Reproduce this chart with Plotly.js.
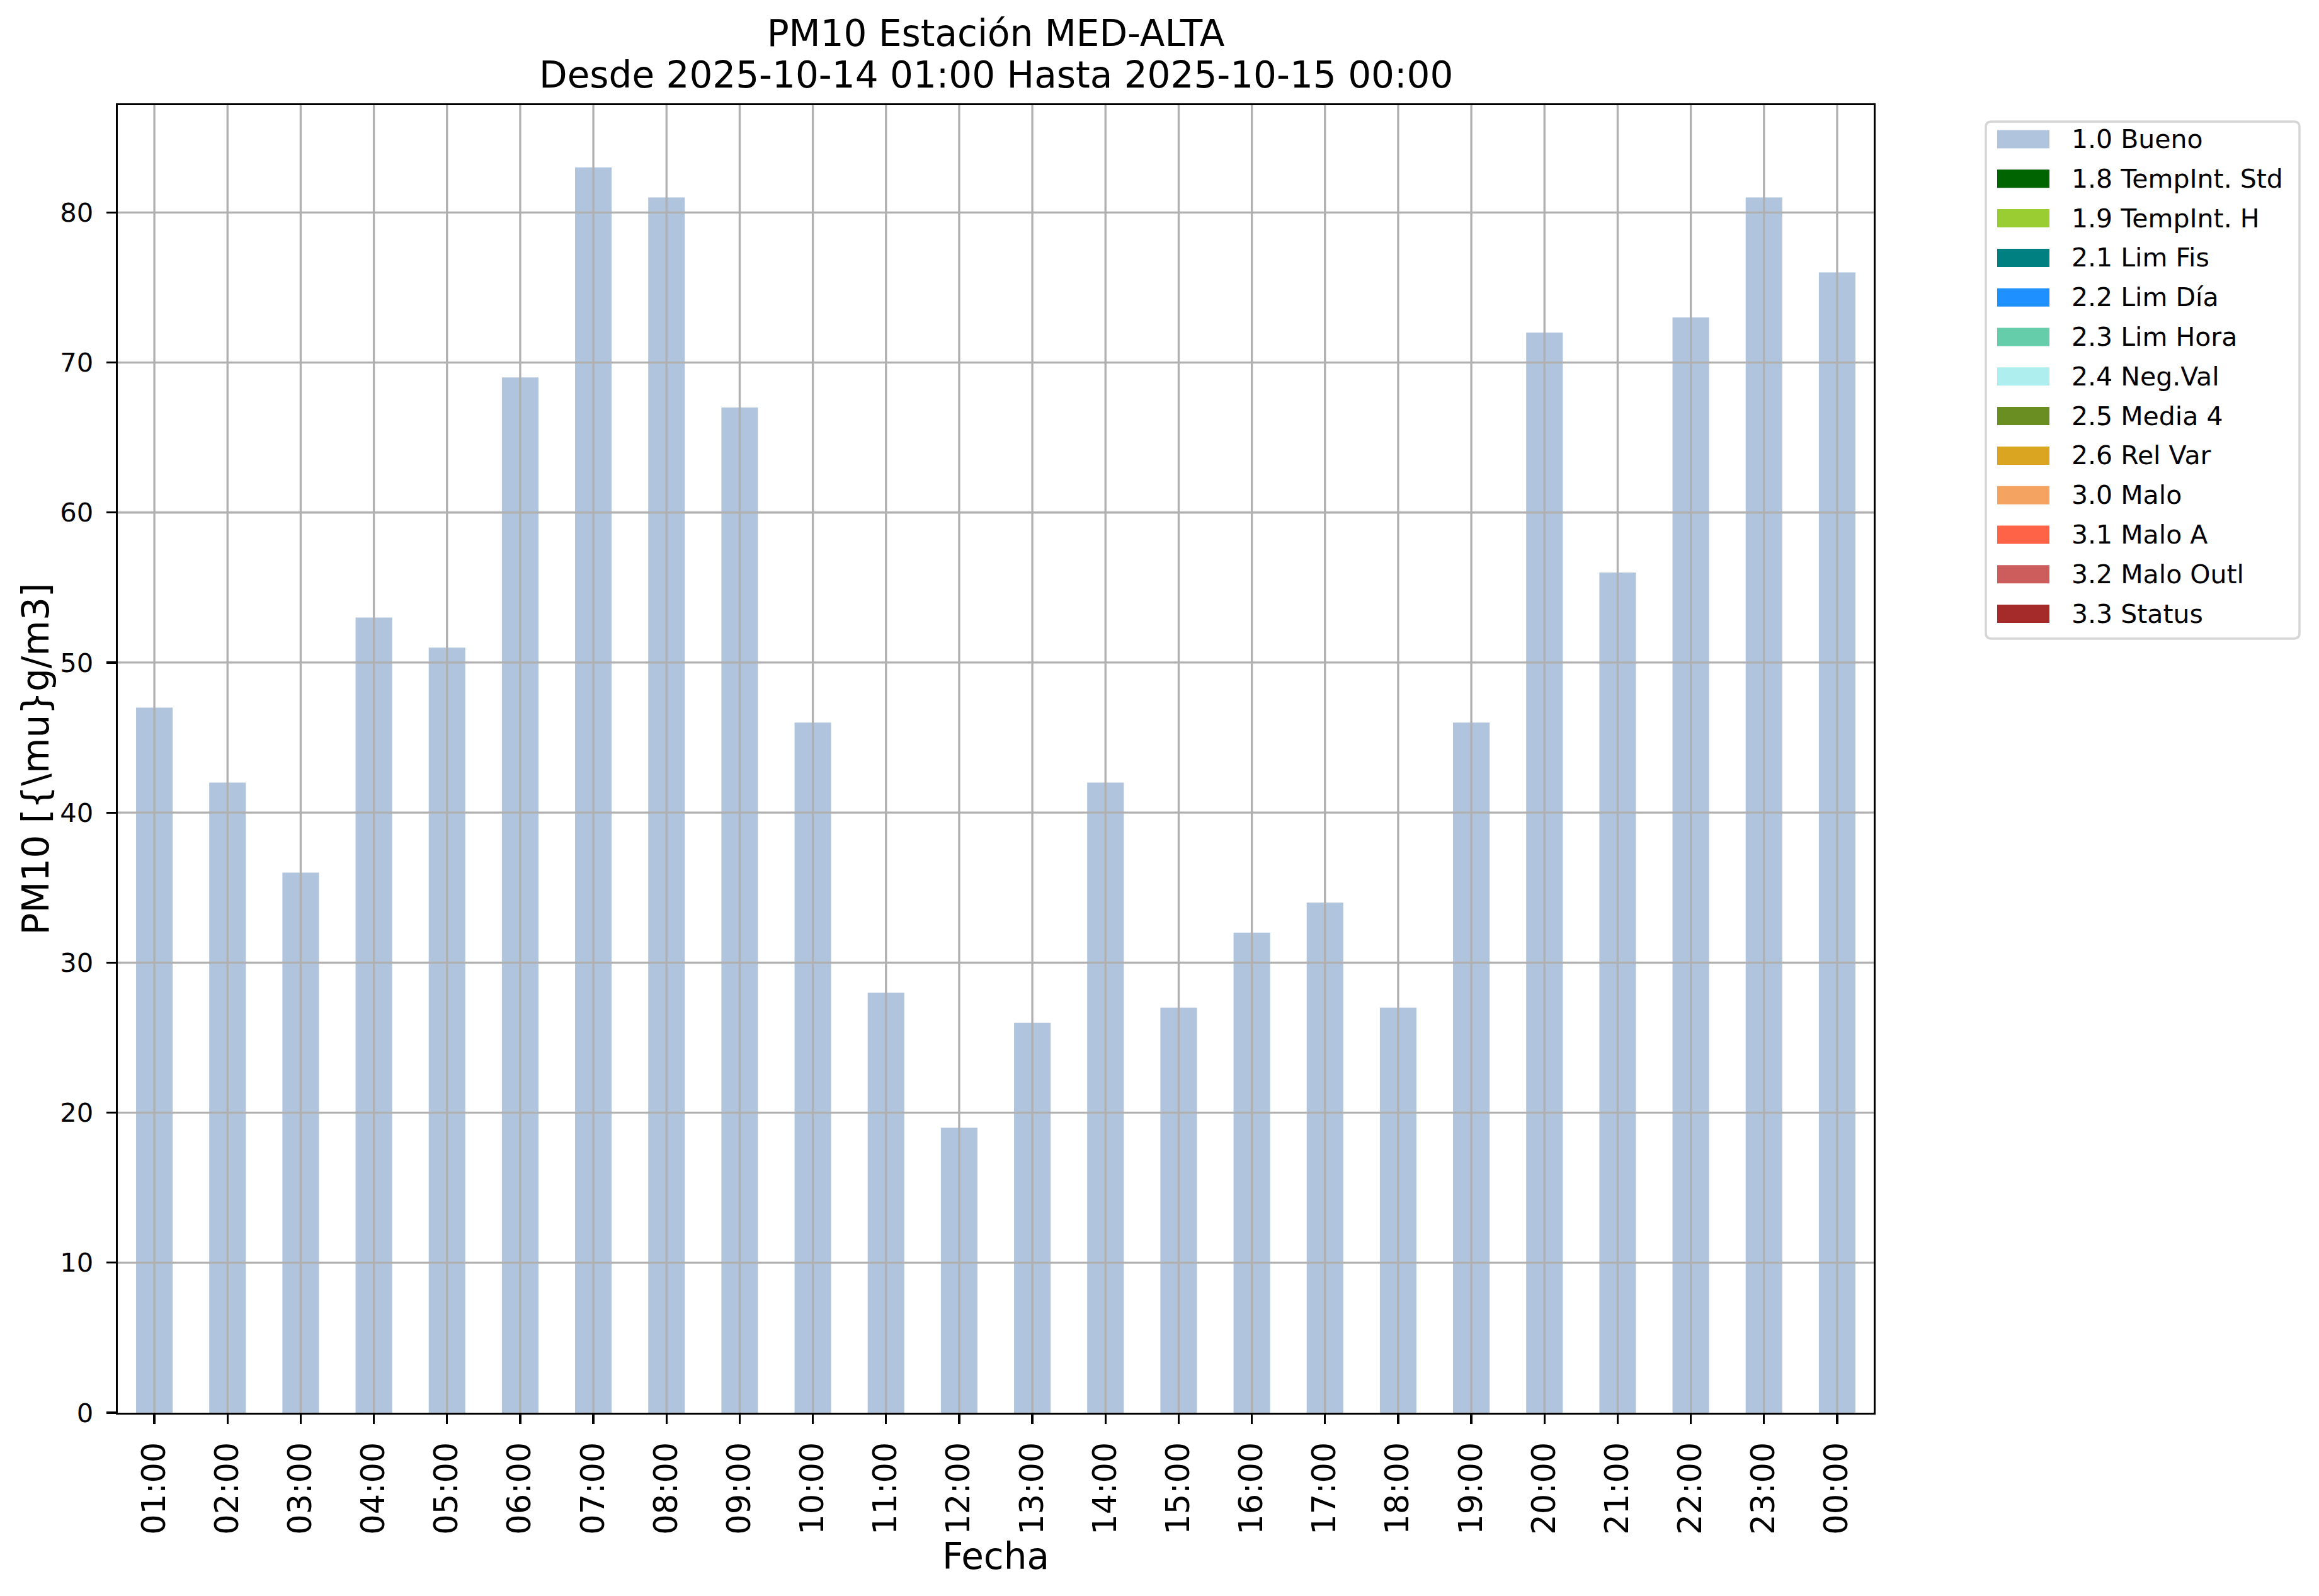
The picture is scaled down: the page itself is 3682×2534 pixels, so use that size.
<!DOCTYPE html>
<html>
<head>
<meta charset="utf-8">
<script src="https://cdn.plot.ly/plotly-3.0.1.min.js"></script>
<style>html,body{margin:0;padding:0;background:#fff;}#chart{width:3682px;height:2534px;}</style>
</head>
<body>
<div id="chart"></div>
<script>
// ---- data ----
const hours = ['01:00','02:00','03:00','04:00','05:00','06:00','07:00','08:00','09:00','10:00','11:00','12:00',
               '13:00','14:00','15:00','16:00','17:00','18:00','19:00','20:00','21:00','22:00','23:00','00:00'];
const bueno = [47,42,36,53,51,69,83,81,67,46,28,19,26,42,27,32,34,27,46,72,56,73,81,76];
const flagNames = ['1.0 Bueno','1.8 TempInt. Std','1.9 TempInt. H','2.1 Lim Fis','2.2 Lim Día','2.3 Lim Hora',
                   '2.4 Neg.Val','2.5 Media 4','2.6 Rel Var','3.0 Malo','3.1 Malo A','3.2 Malo Outl','3.3 Status'];
const flagColors = ['#B0C4DE','#006400','#9ACD32','#008080','#1E90FF','#66CDAA',
                    '#AFEEEE','#6B8E23','#DAA520','#F4A460','#FF6347','#CD5C5C','#A52A2A'];
const yTicks = [0,10,20,30,40,50,60,70,80];
const titleLine1 = 'PM10 Estación MED-ALTA';
const titleLine2 = 'Desde 2025-10-14 01:00 Hasta 2025-10-15 00:00';

// ---- layout geometry (pixels) ----
const W = 3682, H = 2534;
const L = 187, R = 2975, T = 167, B = 2243;
const PW = R - L, PH = B - T;
const px = x => (x - L) / PW;
const py = y => (B - y) / PH;
const FONT = 'DejaVu Sans, Verdana, sans-serif';

// ---- traces ----
const traces = flagNames.map((name, i) => ({
  type: 'bar',
  name: name,
  x: i === 0 ? hours : [],
  y: i === 0 ? bueno : [],
  width: 0.5,
  marker: {color: flagColors[i], line: {width: 0}},
  showlegend: false,
  hoverinfo: 'x+y+name'
}));

// ---- grid lines drawn above bars (as in the reference) ----
const shapes = [];
const gridStyle = {color: '#b0b0b0', width: 3.3};
hours.forEach(h => shapes.push({type: 'line', layer: 'above', xref: 'x', yref: 'paper', x0: h, x1: h, y0: 0, y1: 1, line: gridStyle}));
yTicks.filter(v => v > 0).forEach(v => shapes.push({type: 'line', layer: 'above', xref: 'paper', yref: 'y', x0: 0, x1: 1, y0: v, y1: v, line: gridStyle}));

// ---- legend (matplotlib style) ----
const lx0 = 3153, lx1 = 3651, ly0 = 193, ly1 = 1014, rad = 9;
const rx = rad / PW, ry = rad / PH;
const X0 = px(lx0), X1 = px(lx1), Y0 = py(ly0), Y1 = py(ly1);
const boxPath = `M${X0 + rx},${Y0} L${X1 - rx},${Y0} Q${X1},${Y0} ${X1},${Y0 - ry} L${X1},${Y1 + ry} Q${X1},${Y1} ${X1 - rx},${Y1} L${X0 + rx},${Y1} Q${X0},${Y1} ${X0},${Y1 + ry} L${X0},${Y0 - ry} Q${X0},${Y0} ${X0 + rx},${Y0} Z`;
shapes.push({type: 'path', layer: 'above', xref: 'paper', yref: 'paper', path: boxPath,
             fillcolor: 'rgba(255,255,255,0.8)', line: {color: 'rgba(204,204,204,0.8)', width: 3.5}});
const annotations = [];
const rowY0 = 221, rowStep = 62.8, patchX0 = 3171, patchW = 83, patchH = 29, textX = 3287;
flagNames.forEach((name, i) => {
  const cy = rowY0 + i * rowStep;
  shapes.push({type: 'rect', layer: 'above', xref: 'paper', yref: 'paper',
               x0: px(patchX0), x1: px(patchX0 + patchW), y0: py(cy + patchH / 2), y1: py(cy - patchH / 2),
               fillcolor: flagColors[i], line: {width: 0}});
  annotations.push({xref: 'paper', yref: 'paper', x: px(textX), y: py(cy), xanchor: 'left', yanchor: 'middle',
                    text: name, showarrow: false, font: {family: FONT, size: 41, color: '#000'}});
});

// second title line
annotations.push({xref: 'paper', yref: 'paper', x: 0.5, y: py(119), xanchor: 'center', yanchor: 'middle',
                  text: titleLine2, showarrow: false, font: {family: FONT, size: 58, color: '#000'}});

const layout = {
  width: W, height: H,
  paper_bgcolor: '#fff', plot_bgcolor: '#fff',
  font: {family: FONT, color: '#000'},
  margin: {l: L, r: W - R, t: T, b: H - B, pad: 0},
  barmode: 'stack',
  showlegend: false,
  title: {
    text: titleLine1,
    font: {family: FONT, size: 58, color: '#000'},
    xref: 'paper', x: 0.5, xanchor: 'center',
    yref: 'container', y: 1 - 53 / H, yanchor: 'middle'
  },
  xaxis: {
    type: 'category',
    categoryorder: 'array', categoryarray: hours,
    range: [-0.5, hours.length - 0.5],
    tickangle: -90,
    tickfont: {family: FONT, size: 51, color: '#000'},
    ticks: 'outside', ticklen: 15, tickwidth: 3.3, tickcolor: '#000',
    ticklabelstandoff: 8,
    showgrid: false, zeroline: false,
    showline: true, mirror: true, linecolor: '#000', linewidth: 3.3,
    title: {text: 'Fecha', font: {family: FONT, size: 58, color: '#000'}, standoff: 10}
  },
  yaxis: {
    range: [0, 87.15],
    tickvals: yTicks,
    ticktext: yTicks.map(String),
    tickfont: {family: FONT, size: 41.7, color: '#000'},
    ticks: 'outside', ticklen: 15, tickwidth: 3.3, tickcolor: '#000',
    ticklabelstandoff: 12,
    showgrid: false, zeroline: false,
    showline: true, mirror: true, linecolor: '#000', linewidth: 3.3,
    title: {text: 'PM10 [{\\mu}g/m3]', font: {family: FONT, size: 58, color: '#000'}, standoff: 0}
  },
  shapes: shapes,
  annotations: annotations
};

Plotly.newPlot('chart', traces, layout, {displayModeBar: false, staticPlot: true});
</script>
</body>
</html>
